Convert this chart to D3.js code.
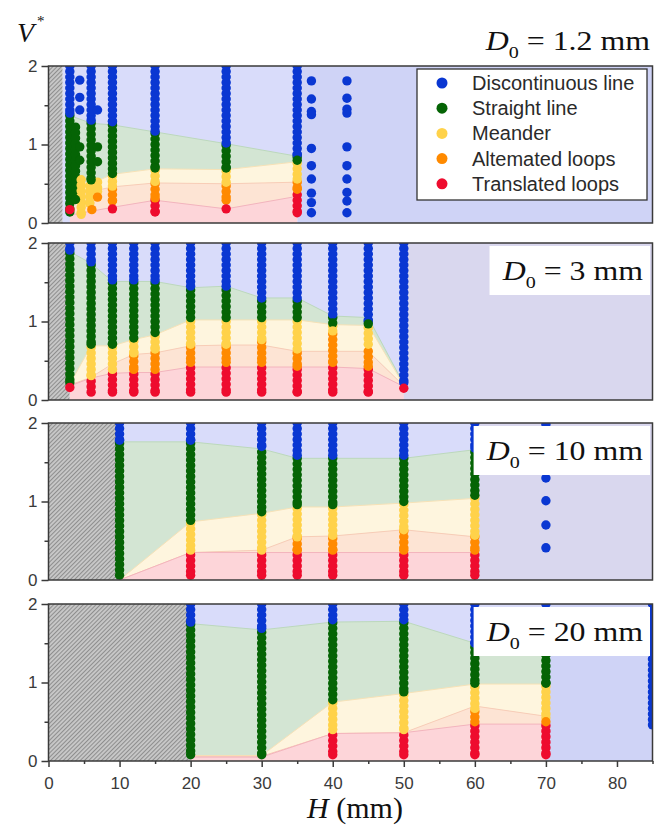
<!DOCTYPE html>
<html>
<head>
<meta charset="utf-8">
<script src="https://cdn.jsdelivr.net/npm/d3@7"></script>
<style>
  body { margin: 0; background: #fff; }
  svg { display: block; font-family: "Liberation Sans", Arial, sans-serif; }
</style>
</head>
<body>
<svg id="chart" width="666" height="828"></svg>
<script>
// categories and colours
const categories = ['Discontinuous line', 'Straight line', 'Meander', 'Altemated loops', 'Translated loops']
const dotColors = ['#0a37d2', '#056405', '#ffd24a', '#ff8a00', '#ee0c2e']
const bandColors = ['#d3e5d3', '#fef5de', '#fde4d4', '#fdd5d9']
const bandEdges = ['#bcd8bc', '#f6e2b6', '#f8cdb6', '#f3b4bc']

const xTicks = [0, 10, 20, 30, 40, 50, 60, 70, 80]
const xMinor = [5, 15, 25, 35, 45, 55, 65, 75, 85]
const yTicks = [0, 1, 2]
const yMinor = [0.5, 1.5]

const d0Values = ['1.2', '3', '10', '20']

// ---- panel 1 : D0 = 1.2 mm ----
const p1Hatch = 2
const p1End = 35
const p1BandX = [3, 6, 9, 15, 25, 35]
const p1Blue = [1.37, 1.27, 1.25, 1.16, 1.01, 0.85]
const p1Green = [0.55, 0.5, 0.62, 0.69, 0.68, 0.78]
const p1Yellow = [0.4, 0.4, 0.46, 0.51, 0.5, 0.52]
const p1Orange = [0.1, 0.15, 0.2, 0.29, 0.18, 0.34]
// [H, category, V from, V to]
const p1Cols = [
  [3, 0, 2.0, 1.4], [3, 1, 1.37, 0.14], [3.8, 1, 1.22, 0.3], [4.6, 2, 0.55, 0.11],
  [6, 0, 2.0, 1.31], [6, 1, 1.27, 0.55], [5.8, 2, 0.47, 0.25], [6.9, 2, 0.52, 0.4],
  [9, 0, 2.0, 1.29], [9, 1, 1.25, 0.63], [9, 2, 0.6, 0.47], [9, 3, 0.43, 0.28],
  [15, 0, 2.0, 1.17], [15, 1, 1.14, 0.7], [15, 2, 0.67, 0.53], [15, 3, 0.5, 0.32], [15, 4, 0.29, 0.14],
  [25, 0, 2.0, 1.02], [25, 1, 0.99, 0.7], [25, 2, 0.66, 0.52], [25, 3, 0.47, 0.29],
  [35, 0, 2.0, 0.87], [35, 1, 0.84, 0.8], [35, 2, 0.76, 0.56], [35, 3, 0.52, 0.43], [35, 4, 0.36, 0.13]
]
// [H, category, V]
const p1Dots = [
  [3, 4, 0.17], [4.4, 0, 1.82], [4.4, 0, 1.6], [4.4, 0, 1.44], [4.4, 1, 0.97], [4.4, 1, 0.8],
  [6.9, 0, 1.44], [6.9, 1, 0.97], [6.9, 1, 0.78], [6.9, 3, 0.33], [6.1, 3, 0.17],
  [9, 4, 0.18], [25, 4, 0.18],
  [37, 0, 1.81], [37, 0, 1.58], [37, 0, 1.42], [37, 0, 1.38], [37, 0, 0.95], [37, 0, 0.73],
  [37, 0, 0.56], [37, 0, 0.38], [37, 0, 0.26], [37, 0, 0.13],
  [42, 0, 1.81], [42, 0, 1.59], [42, 0, 1.45], [42, 0, 1.4], [42, 0, 0.97], [42, 0, 0.73],
  [42, 0, 0.56], [42, 0, 0.39], [42, 0, 0.28], [42, 0, 0.13]
]

// ---- panel 2 : D0 = 3 mm ----
const p2Hatch = 3
const p2End = 50
const p2BandX = [3, 6, 9, 12, 15, 20, 25, 30, 35, 40, 45, 50]
const p2Blue = [1.89, 1.74, 1.51, 1.51, 1.51, 1.43, 1.45, 1.3, 1.3, 1.07, 1.05, 0.2]
const p2Green = [0.2, 0.69, 0.69, 0.77, 0.83, 1.02, 1.02, 1.02, 1.02, 0.96, 0.95, 0.19]
const p2Yellow = [0.19, 0.29, 0.46, 0.58, 0.6, 0.69, 0.7, 0.7, 0.62, 0.62, 0.62, 0.18]
const p2Orange = [0.18, 0.28, 0.34, 0.35, 0.35, 0.42, 0.42, 0.42, 0.42, 0.42, 0.4, 0.17]
const p2Cols = [
  [3, 0, 2.0, 1.91], [3, 1, 1.87, 0.22],
  [6, 0, 2.0, 1.76], [6, 1, 1.72, 0.71], [6, 2, 0.67, 0.31], [6, 4, 0.24, 0.1],
  [9, 0, 2.0, 1.53], [9, 1, 1.49, 0.71], [9, 2, 0.67, 0.39], [9, 4, 0.33, 0.1],
  [12, 0, 2.0, 1.53], [12, 1, 1.49, 0.79], [12, 2, 0.75, 0.6], [12, 3, 0.56, 0.39], [12, 4, 0.33, 0.1],
  [15, 0, 2.0, 1.53], [15, 1, 1.49, 0.86], [15, 2, 0.81, 0.65], [15, 3, 0.6, 0.39], [15, 4, 0.33, 0.1],
  [20, 0, 2.0, 1.45], [20, 1, 1.4, 1.05], [20, 2, 1.0, 0.71], [20, 3, 0.67, 0.48], [20, 4, 0.41, 0.1],
  [25, 0, 2.0, 1.45], [25, 1, 1.4, 1.05], [25, 2, 1.0, 0.71], [25, 3, 0.67, 0.48], [25, 4, 0.41, 0.1],
  [30, 0, 2.0, 1.3], [30, 1, 1.26, 1.05], [30, 2, 1.0, 0.77], [30, 3, 0.74, 0.48], [30, 4, 0.41, 0.1],
  [35, 0, 2.0, 1.3], [35, 1, 1.26, 1.05], [35, 2, 1.0, 0.65], [35, 3, 0.6, 0.43], [35, 4, 0.39, 0.1],
  [40, 0, 2.0, 1.09], [40, 1, 1.05, 0.98], [40, 2, 0.94, 0.88], [40, 3, 0.84, 0.48], [40, 4, 0.41, 0.1],
  [45, 0, 2.0, 1.0], [45, 2, 0.92, 0.71], [45, 3, 0.62, 0.43], [45, 4, 0.39, 0.1],
  [50, 0, 2.0, 0.22]
]
const p2Dots = [[3, 4, 0.16], [45, 1, 0.97], [50, 4, 0.15]]

// ---- panel 3 : D0 = 10 mm ----
const p3Hatch = 10
const p3End = 60
const p3BandX = [10, 20, 30, 35, 40, 50, 60]
const p3Blue = [1.76, 1.76, 1.67, 1.55, 1.55, 1.55, 1.66]
const p3Green = [0, 0.74, 0.85, 0.93, 0.93, 0.98, 1.04]
const p3Yellow = [0, 0.35, 0.38, 0.55, 0.56, 0.64, 0.55]
const p3Orange = [0, 0.35, 0.35, 0.35, 0.35, 0.35, 0.35]
const p3Cols = [
  [10, 0, 2.0, 1.78], [10, 1, 1.74, 0.06],
  [20, 0, 2.0, 1.78], [20, 1, 1.74, 0.76], [20, 2, 0.72, 0.38], [20, 4, 0.32, 0.06],
  [30, 0, 2.0, 1.7], [30, 1, 1.63, 0.87], [30, 2, 0.83, 0.38], [30, 4, 0.32, 0.06],
  [35, 0, 2.0, 1.59], [35, 1, 1.55, 0.96], [35, 2, 0.91, 0.55], [35, 3, 0.53, 0.38], [35, 4, 0.32, 0.06],
  [40, 0, 2.0, 1.59], [40, 1, 1.55, 0.96], [40, 2, 0.91, 0.57], [40, 3, 0.53, 0.38], [40, 4, 0.32, 0.06],
  [50, 0, 2.0, 1.59], [50, 1, 1.55, 1.0], [50, 2, 0.96, 0.64], [50, 3, 0.62, 0.38], [50, 4, 0.32, 0.06],
  [60, 0, 2.0, 1.68], [60, 1, 1.63, 1.08], [60, 2, 1.04, 0.57], [60, 3, 0.55, 0.38], [60, 4, 0.32, 0.06]
]
const p3Dots = [[70, 0, 1.98], [70, 0, 1.3], [70, 0, 1.01], [70, 0, 0.7], [70, 0, 0.41]]

// ---- panel 4 : D0 = 20 mm ----
const p4Hatch = 20
const p4End = 70
const p4BandX = [20, 30, 40, 50, 60, 70]
const p4Blue = [1.75, 1.67, 1.77, 1.78, 1.5, 1.38]
const p4Green = [0.07, 0.07, 0.75, 0.86, 0.98, 0.98]
const p4Yellow = [0.06, 0.06, 0.35, 0.36, 0.7, 0.57]
const p4Orange = [0.05, 0.05, 0.35, 0.36, 0.47, 0.47]
const p4Cols = [
  [20, 0, 2.0, 1.77], [20, 1, 1.74, 0.08],
  [30, 0, 2.0, 1.69], [30, 1, 1.64, 0.08],
  [40, 0, 2.0, 1.8], [40, 1, 1.76, 0.78], [40, 2, 0.74, 0.4], [40, 4, 0.33, 0.08],
  [50, 0, 2.0, 1.8], [50, 1, 1.76, 0.88], [50, 2, 0.84, 0.4], [50, 4, 0.33, 0.08],
  [60, 0, 2.0, 1.5], [60, 1, 1.45, 0.99], [60, 2, 0.94, 0.67], [60, 3, 0.63, 0.5], [60, 4, 0.45, 0.08],
  [70, 0, 2.0, 1.45], [70, 1, 1.42, 0.99], [70, 2, 0.95, 0.55], [70, 4, 0.45, 0.08],
  [85, 0, 2.0, 0.46]
]
const p4Dots = [[70, 3, 0.5]]

// ---- layout ----
let svg = d3.select('#chart')
let panelTops = [66, 243, 423, 604]
let panelH = 157
let farColors = ['#cfd3f6', '#d9d7ee', '#d9d7ee', '#cfd3f6']
let lightBlue = '#d9dcfa'
let ink = '#3a3a3a'

let x = d3.scaleLinear().domain([0, 85]).range([48.5, 652.5])

let panels = [
  { hatch: p1Hatch, end: p1End, bx: p1BandX, b: [p1Blue, p1Green, p1Yellow, p1Orange], cols: p1Cols, dots: p1Dots },
  { hatch: p2Hatch, end: p2End, bx: p2BandX, b: [p2Blue, p2Green, p2Yellow, p2Orange], cols: p2Cols, dots: p2Dots },
  { hatch: p3Hatch, end: p3End, bx: p3BandX, b: [p3Blue, p3Green, p3Yellow, p3Orange], cols: p3Cols, dots: p3Dots },
  { hatch: p4Hatch, end: p4End, bx: p4BandX, b: [p4Blue, p4Green, p4Yellow, p4Orange], cols: p4Cols, dots: p4Dots }
]

// hatch pattern
let defs = svg.append('defs')
let pat = defs.append('pattern')
    .attr('id', 'hatch')
    .attr('patternUnits', 'userSpaceOnUse')
    .attr('width', 3)
    .attr('height', 3)
    .attr('patternTransform', 'rotate(45)')
pat.append('rect').attr('width', 3).attr('height', 3).attr('fill', '#c8c8c8')
pat.append('line').attr('x1', 0.5).attr('x2', 0.5).attr('y1', 0).attr('y2', 3)
   .attr('stroke', '#8e8e8e').attr('stroke-width', 1.1)

panels.forEach(function (p, i) {
  let top = panelTops[i]
  let y = d3.scaleLinear().domain([0, 2]).range([top + panelH, top])
  let g = svg.append('g')

  defs.append('clipPath').attr('id', 'clip' + i)
      .append('rect')
      .attr('x', x(0)).attr('y', top)
      .attr('width', x(85) - x(0)).attr('height', panelH)

  let plot = g.append('g').attr('clip-path', 'url(#clip' + i + ')')

  // backgrounds
  plot.append('rect')
      .attr('x', x(0)).attr('y', top)
      .attr('width', x(p.hatch) - x(0)).attr('height', panelH)
      .attr('fill', 'url(#hatch)')
  plot.append('rect')
      .attr('x', x(p.hatch)).attr('y', top)
      .attr('width', x(p.end) - x(p.hatch)).attr('height', panelH)
      .attr('fill', lightBlue)
  plot.append('rect')
      .attr('x', x(p.end)).attr('y', top)
      .attr('width', x(85) - x(p.end)).attr('height', panelH)
      .attr('fill', farColors[i])

  // regime bands
  let bounds = p.b.concat([p.bx.map(() => 0)])
  for (let k = 0; k < 4; k++) {
    let rows = p.bx.map((h, j) => ({ h: h, hi: bounds[k][j], lo: bounds[k + 1][j] }))
    let area = d3.area()
        .x(d => x(d.h))
        .y0(d => y(d.lo))
        .y1(d => y(d.hi))
    plot.append('path')
        .datum(rows)
        .attr('d', area)
        .attr('fill', bandColors[k])
    plot.append('path')
        .datum(rows)
        .attr('d', d3.line().x(d => x(d.h)).y(d => y(d.hi)))
        .attr('fill', 'none')
        .attr('stroke', bandEdges[k])
        .attr('stroke-width', 1)
  }

  // dense columns of points
  plot.selectAll('line.col')
      .data(p.cols)
      .enter()
      .append('line')
      .attr('class', 'col')
      .attr('x1', d => x(d[0]))
      .attr('x2', d => x(d[0]))
      .attr('y1', d => y(d[2]))
      .attr('y2', d => y(d[3]))
      .attr('stroke', d => dotColors[d[1]])
      .attr('stroke-width', 9.5)
      .attr('stroke-linecap', 'round')
      .attr('stroke-dasharray', '0 5.5')
  plot.selectAll('circle.end')
      .data(p.cols)
      .enter()
      .append('circle')
      .attr('cx', d => x(d[0]))
      .attr('cy', d => y(d[3]))
      .attr('r', 4.7)
      .attr('fill', d => dotColors[d[1]])

  // single points
  plot.selectAll('circle.dot')
      .data(p.dots)
      .enter()
      .append('circle')
      .attr('class', 'dot')
      .attr('cx', d => x(d[0]))
      .attr('cy', d => y(d[2]))
      .attr('r', 4.7)
      .attr('fill', d => dotColors[d[1]])

  // frame
  g.append('rect')
      .attr('x', x(0)).attr('y', top)
      .attr('width', x(85) - x(0)).attr('height', panelH)
      .attr('fill', 'none')
      .attr('stroke', ink)
      .attr('stroke-width', 1.5)

  // y axis
  let ya = g.append('g')
      .attr('transform', `translate(${x(0)},0)`)
      .call(d3.axisLeft(y).tickValues(yTicks).tickSize(7).tickPadding(4).tickFormat(d3.format('d')))
  ya.select('.domain').remove()
  let ym = g.append('g')
      .attr('transform', `translate(${x(0)},0)`)
      .call(d3.axisLeft(y).tickValues(yMinor).tickSize(4).tickFormat(''))
  ym.select('.domain').remove()
  g.selectAll('.tick line').attr('stroke', ink).attr('stroke-width', 1.5)
  ya.selectAll('text').style('font-size', '17px').attr('fill', ink)

  // x axis only on the last panel
  if (i === 3) {
    let xa = g.append('g')
        .attr('transform', `translate(0,${top + panelH})`)
        .call(d3.axisBottom(x).tickValues(xTicks).tickSize(6).tickPadding(10).tickFormat(d3.format('d')))
    xa.select('.domain').remove()
    let xm = g.append('g')
        .attr('transform', `translate(0,${top + panelH})`)
        .call(d3.axisBottom(x).tickValues(xMinor).tickSize(3).tickFormat(''))
    xm.select('.domain').remove()
    g.selectAll('.tick line').attr('stroke', ink).attr('stroke-width', 1.5)
    xa.selectAll('text').style('font-size', '17px').attr('fill', ink)
  }

  // D0 label
  let lg = g.append('g')
  let baseY = i === 0 ? 50 : top + 37
  let label = lg.append('text')
      .attr('transform', `translate(${i === 0 ? 650 : 643},${baseY}) scale(1.18,1)`)
      .attr('text-anchor', 'end')
      .style('font-family', '"Liberation Serif", "Times New Roman", serif')
      .style('font-size', '27px')
      .attr('fill', '#111')
  label.append('tspan').style('font-style', 'italic').text('D')
  label.append('tspan').attr('dy', 8).style('font-size', '17px').text('0')
  label.append('tspan').attr('dy', -8).text(' = ' + d0Values[i] + ' mm')
  if (i > 0) {
    let bb = label.node().getBBox()
    let w = bb.width * 1.18 + 20
    lg.insert('rect', 'text')
        .attr('x', 651 - w).attr('y', top + 3)
        .attr('width', w - 1).attr('height', 49)
        .attr('fill', '#fff')
  }
})

// legend inside the first panel
let leg = svg.append('g')
leg.append('rect')
    .attr('x', 417).attr('y', 69)
    .attr('width', 230).attr('height', 131)
    .attr('fill', '#fff')
    .attr('stroke', '#333')
    .attr('stroke-width', 1.3)
let items = leg.selectAll('g.item')
    .data(categories)
    .enter()
    .append('g')
    .attr('transform', (d, i) => `translate(442,${83 + i * 25.2})`)
items.append('circle').attr('r', 5.5).attr('fill', (d, i) => dotColors[i])
items.append('text')
    .attr('x', 30)
    .attr('dy', '0.35em')
    .style('font-size', '20px')
    .attr('fill', '#2a2a2a')
    .text(d => d)

// axis titles
let vt = svg.append('text')
    .attr('x', 17).attr('y', 42)
    .style('font-family', '"Liberation Serif", "Times New Roman", serif')
    .style('font-size', '28px')
    .attr('fill', '#111')
vt.append('tspan').style('font-style', 'italic').text('V')
vt.append('tspan').attr('dy', -16).attr('dx', 3).style('font-size', '15px').text('*')

let ht = svg.append('text')
    .attr('x', 355).attr('y', 818)
    .attr('text-anchor', 'middle')
    .style('font-family', '"Liberation Serif", "Times New Roman", serif')
    .style('font-size', '30px')
    .attr('fill', '#111')
ht.append('tspan').style('font-style', 'italic').text('H')
ht.append('tspan').text(' (mm)')
</script>
</body>
</html>
